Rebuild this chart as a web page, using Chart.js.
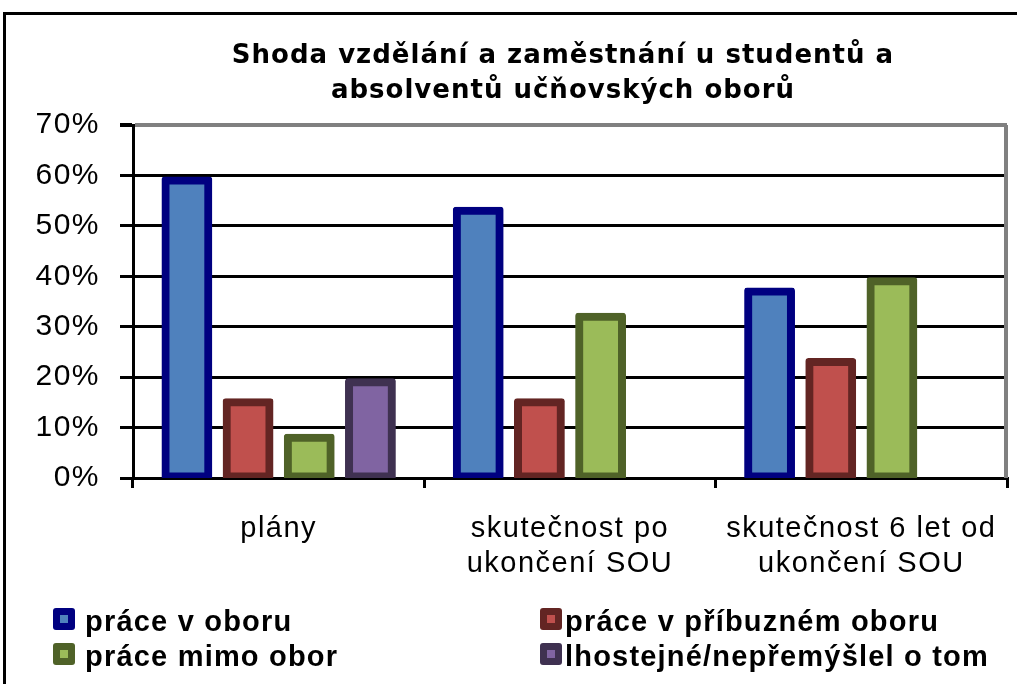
<!DOCTYPE html>
<html>
<head>
<meta charset="utf-8">
<script src="https://cdn.jsdelivr.net/npm/chart.js@4.4.1/dist/chart.umd.min.js"></script>
<style>
  html, body { margin: 0; padding: 0; background: #fff; }
  #wrap { width: 1017px; height: 684px; }
</style>
</head>
<body>
<div id="wrap"><canvas id="chart" width="1017" height="684"></canvas></div>
<script>
// data
var categories = [['plány'], ['skutečnost po', 'ukončení SOU'], ['skutečnost 6 let od', 'ukončení SOU']];
var seriesNames = ['práce v oboru', 'práce v příbuzném oboru', 'práce mimo obor', 'lhostejné/nepřemýšlel o tom'];
var praceVOboru = [59, 53, 37];
var praceVPribuznem = [15, 15, 23];
var praceMimoObor = [8, 32, 39];
var lhostejne = [19, null, null];
var yTicks = [0, 10, 20, 30, 40, 50, 60, 70];
var titleLines = ['Shoda vzdělání a zaměstnání u studentů a', 'absolventů učňovských oborů'];

var fills = ['#4F81BD', '#C0504D', '#9BBB59', '#8064A2'];
var edges = ['#000080', '#632523', '#4F6228', '#3F3151'];

function ds(i, values) {
  return {
    label: seriesNames[i],
    data: values,
    backgroundColor: fills[i],
    borderColor: edges[i],
    borderWidth: 8,
    inflateAmount: 4,   // border sits on the value line like in Excel
    borderSkipped: false,
    borderRadius: 3
  };
}

// title, frame and the two-column legend
var decor = {
  id: 'decor',
  beforeDraw: function(chart) {
    chart.ctx.letterSpacing = '1.5px';
  },
  beforeDatasetsDraw: function(chart) {
    var ctx = chart.ctx, a = chart.chartArea;
    ctx.save();
    ctx.strokeStyle = '#808080';
    ctx.lineWidth = 4;
    ctx.beginPath();
    ctx.moveTo(a.right - 1, a.top);
    ctx.lineTo(a.right - 1, a.bottom);
    ctx.stroke();
    ctx.restore();
  },
  afterDraw: function(chart) {
    var ctx = chart.ctx, a = chart.chartArea;
    ctx.save();
    // outer frame
    ctx.strokeStyle = '#000';
    ctx.lineWidth = 3;
    ctx.strokeRect(4.5, 13.5, 1100, 800);
    // title
    ctx.fillStyle = '#000';
    ctx.letterSpacing = '1px';
    ctx.font = 'bold 26px "DejaVu Sans"';
    ctx.textAlign = 'center';
    ctx.textBaseline = 'alphabetic';
    ctx.fillText(titleLines[0], 563, 63);
    ctx.fillText(titleLines[1], 563, 98);
    // legend
    var pos = [[53, 608, 85], [540, 608, 565], [53, 643, 85], [540, 643, 565]];
    ctx.textAlign = 'left';
    ctx.letterSpacing = '1.2px';
    ctx.font = 'bold 29px "Liberation Sans"';
    for (var i = 0; i < seriesNames.length; i++) {
      var x = pos[i][0], y = pos[i][1];
      ctx.fillStyle = edges[i];
      ctx.beginPath();
      ctx.roundRect(x, y, 22, 22, 3);
      ctx.fill();
      ctx.fillStyle = fills[i];
      ctx.fillRect(x + 7, y + 7, 8, 8);
      ctx.fillStyle = '#000';
      ctx.fillText(seriesNames[i], pos[i][2], y + 23);
    }
    ctx.restore();
    ctx.letterSpacing = '0px';
  }
};

new Chart(document.getElementById('chart'), {
  type: 'bar',
  data: {
    labels: categories,
    datasets: [ds(0, praceVOboru), ds(1, praceVPribuznem), ds(2, praceMimoObor), ds(3, lhostejne)]
  },
  options: {
    responsive: false,
    animation: false,
    categoryPercentage: 0.84,
    barPercentage: 0.70,
    layout: { padding: { top: 125, right: 10, bottom: 86, left: 0 } },
    plugins: {
      legend: { display: false },
      title: { display: false },
      tooltip: { enabled: false }
    },
    scales: {
      x: {
        grid: {
          display: true,
          drawOnChartArea: false,
          drawTicks: true,
          tickLength: 10,
          color: '#000',
          lineWidth: 3,
          offset: true
        },
        border: { display: true, color: '#000', width: 3 },
        ticks: {
          color: '#000',
          padding: 24,
          maxRotation: 0,
          font: { family: 'Liberation Sans', size: 29, lineHeight: 1.2 }
        },
        afterFit: function(scale) { scale.height = 120; }
      },
      y: {
        min: 0,
        max: 70,
        afterBuildTicks: function(scale) {
          scale.ticks = yTicks.map(function(v) { return { value: v }; });
        },
        grid: {
          color: function(c) { return c.tick && c.tick.value === 70 ? '#808080' : '#000'; },
          lineWidth: function(c) { return c.tick && c.tick.value === 70 ? 4 : 3; },
          drawTicks: true,
          tickLength: 13,
          tickColor: '#000'
        },
        border: { display: true, color: '#000', width: 3 },
        ticks: {
          color: '#000',
          padding: 20,
          font: { family: 'Liberation Sans', size: 30 },
          callback: function(v) { return v + '%'; }
        },
        afterFit: function(scale) { scale.width = 133; }
      }
    }
  },
  plugins: [decor]
});
</script>
</body>
</html>
